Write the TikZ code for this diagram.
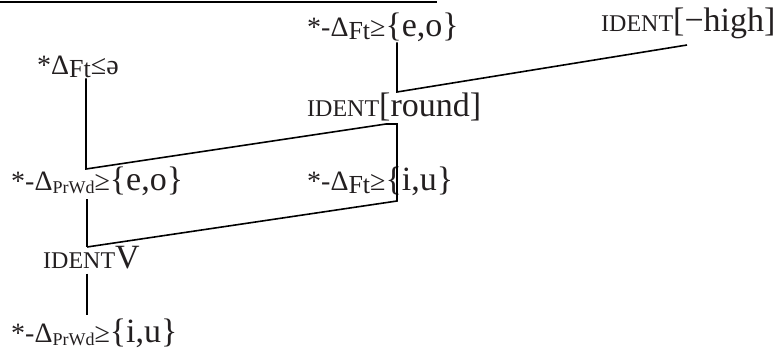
\documentclass[tikz,border=0pt]{standalone}
\usepackage{fontspec}
\setmainfont{Liberation Serif}
\usepackage{xcolor}
\usetikzlibrary{positioning}
\definecolor{inkgray}{RGB}{35,31,32}
\newcommand{\bigtxt}[1]{{\fontsize{34}{34}\selectfont #1}}
\newcommand{\midtxt}[1]{{\fontsize{28}{28}\selectfont #1}}
\newcommand{\dsub}[2][26]{\raisebox{-3pt}{\fontsize{#1}{#1}\selectfont #2}}

\begin{document}
\begin{tikzpicture}[
  x=1pt, y=-1pt,
  con/.style={inner sep=0pt, anchor=base west, text=inkgray,
              font=\fontsize{24}{24}\selectfont},
  link/.style={line width=1.6pt, line join=miter, black},
  rule/.style={line width=1.8pt, black}
]
\useasboundingbox (0,0) rectangle (774,350);

% cut-off rule along the top edge
\coordinate (ruleL) at (0,2);
\coordinate (ruleR) at (437,2);
\draw[rule] (ruleL) -- (ruleR);

% constraints
\node[con] (eoFt)    at (307,37)  {\midtxt{*-Δ}\dsub{Ft}\midtxt{≥}\bigtxt{\{e,o\}}};
\node[con] (negHigh) at (601,32)  {IDENT\bigtxt{[−high]}};
\node[con] (schwa)   at (37,75)   {\midtxt{*Δ}\dsub{Ft}\midtxt{≤ə}};
\node[con] (round)   at (307,117) {IDENT\bigtxt{[round]}};
\node[con] (eoPrWd)  at (11,190)  {\midtxt{*-Δ}\dsub[18]{PrWd}\midtxt{≥}\bigtxt{\{e,o\}}};
\node[con] (iuFt)    at (307,190) {\midtxt{*-Δ}\dsub{Ft}\midtxt{≥}\bigtxt{\{i,u\}}};
\node[con] (identV)  at (43,268)  {IDENT\bigtxt{V}};
\node[con] (iuPrWd)  at (11,342)  {\midtxt{*-Δ}\dsub[18]{PrWd}\midtxt{≥}\bigtxt{\{i,u\}}};

% bends of the ranking lines
\coordinate (j1) at (397,92);
\coordinate (hx) at (687,45);
\coordinate (j2) at (86,169);
\coordinate (j3) at (386,124);
\coordinate (j4) at (397,124);
\coordinate (j5) at (397,201);
\coordinate (j6) at (87,247);

\draw[link] (eoFt.south -| j1) -- (j1) -- (hx);
\draw[link] (schwa.south -| j2) -- (j2) -- (j3) -- (j4) -- (j5) -- (j6);
\draw[link, shorten <=4pt] (eoPrWd.south -| j6) -- (j6);
\draw[link, shorten <=5pt, shorten >=3pt] (identV.south -| j6) -- (iuPrWd.north -| j6);
\end{tikzpicture}
\end{document}
